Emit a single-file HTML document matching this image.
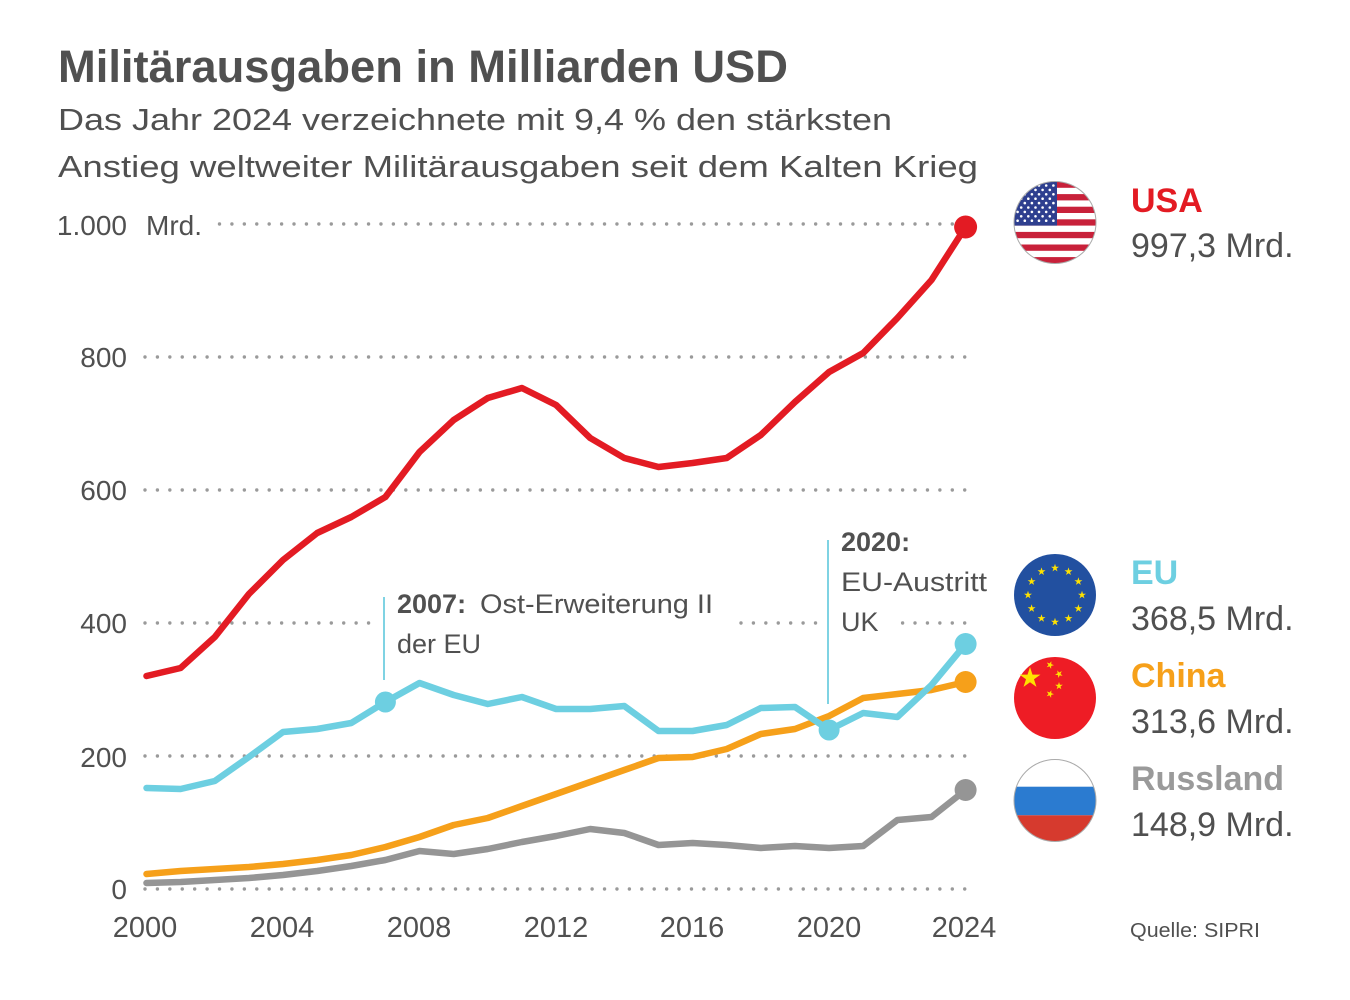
<!DOCTYPE html>
<html>
<head>
<meta charset="utf-8">
<style>
html,body{margin:0;padding:0;background:#fff;}
svg{display:block;}
text{font-family:"Liberation Sans",sans-serif;}
</style>
</head>
<body>
<svg width="1350" height="1000" viewBox="0 0 1350 1000" xmlns="http://www.w3.org/2000/svg">
<defs>
  <path id="star" d="M0,-1 L0.2245,-0.309 L0.951,-0.309 L0.363,0.118 L0.588,0.809 L0,0.382 L-0.588,0.809 L-0.363,0.118 L-0.951,-0.309 L-0.2245,-0.309 Z"/>
  <clipPath id="cUSA"><circle cx="1055" cy="222.5" r="41"/></clipPath>
  <clipPath id="cRU"><circle cx="1055" cy="800.5" r="41"/></clipPath>
</defs>
<rect width="1350" height="1000" fill="#fff"/>

<!-- Title -->
<text x="58" y="82" font-size="45" font-weight="bold" fill="#505050" textLength="730" lengthAdjust="spacingAndGlyphs">Militärausgaben in Milliarden USD</text>
<text x="58" y="130" font-size="31" fill="#505050" textLength="834" lengthAdjust="spacingAndGlyphs">Das Jahr 2024 verzeichnete mit 9,4 % den stärksten</text>
<text x="58" y="177" font-size="31" fill="#505050" textLength="920" lengthAdjust="spacingAndGlyphs">Anstieg weltweiter Militärausgaben seit dem Kalten Krieg</text>

<!-- Grid -->
<g stroke="#9a9a9a" stroke-width="3.4" stroke-linecap="round" stroke-dasharray="0 12.42">
  <line x1="219.5" y1="224" x2="966" y2="224"/>
  <line x1="145" y1="357" x2="966" y2="357"/>
  <line x1="145" y1="490" x2="966" y2="490"/>
  <line x1="145" y1="623" x2="369" y2="623"/>
  <line x1="741" y1="623" x2="817" y2="623"/>
  <line x1="902.6" y1="623" x2="966" y2="623"/>
  <line x1="145" y1="756" x2="966" y2="756"/>
  <line x1="145" y1="889" x2="966" y2="889"/>
</g>

<!-- Y labels -->
<g font-size="28" fill="#505050">
  <text x="127" y="235" text-anchor="end">1.000</text>
  <text x="146" y="235">Mrd.</text>
  <text x="127" y="367" text-anchor="end">800</text>
  <text x="127" y="500" text-anchor="end">600</text>
  <text x="127" y="633" text-anchor="end">400</text>
  <text x="127" y="767" text-anchor="end">200</text>
  <text x="127" y="899" text-anchor="end">0</text>
</g>

<!-- X labels -->
<g font-size="29" fill="#505050" text-anchor="middle">
  <text x="145" y="937">2000</text>
  <text x="282" y="937">2004</text>
  <text x="419" y="937">2008</text>
  <text x="556" y="937">2012</text>
  <text x="692" y="937">2016</text>
  <text x="829" y="937">2020</text>
  <text x="964" y="937">2024</text>
</g>

<!-- Annotation lines -->
<line x1="384" y1="597" x2="384" y2="680" stroke="#7fd3e3" stroke-width="2"/>
<line x1="828" y1="540" x2="828" y2="704" stroke="#7fd3e3" stroke-width="2"/>

<!-- Annotations -->
<g font-size="27" fill="#505050">
  <text x="397" y="613" font-weight="bold">2007:</text>
  <text x="480" y="613" textLength="233" lengthAdjust="spacingAndGlyphs">Ost-Erweiterung II</text>
  <text x="397" y="653">der EU</text>
  <text x="841" y="551" font-weight="bold">2020:</text>
  <text x="841" y="591" textLength="146" lengthAdjust="spacingAndGlyphs">EU-Austritt</text>
  <text x="841" y="631">UK</text>
</g>

<!-- Series -->
<g fill="none" stroke-width="6.5" stroke-linejoin="round" stroke-linecap="round">
  <polyline stroke="#959595" points="146.5,883 180.6,882 214.8,880 248.9,878 283,875 317.2,871 351.3,866 385.4,860 419.5,851 453.7,854 487.8,849 521.9,842 556.1,836 590.2,829 624.3,833 658.5,845 692.6,843 726.7,845 760.8,848 795,846 829.1,848 863.2,846 897.4,820 931.5,817 965.6,790"/>
  <polyline stroke="#F6A01A" points="146.5,874 180.6,871 214.8,869 248.9,867 283,864 317.2,860 351.3,855 385.4,847 419.5,837 453.7,825 487.8,818 521.9,806 556.1,794 590.2,782 624.3,770 658.5,758 692.6,757 726.7,749 760.8,734 795,729 829.1,716 863.2,698 897.4,694 931.5,690 965.6,682"/>
  <polyline stroke="#6DCFE1" points="146.5,788 180.6,789 214.8,781 248.9,757 283,732 317.2,729 351.3,723 385.4,702 419.5,683 453.7,695 487.8,704 521.9,697 556.1,709 590.2,709 624.3,706 658.5,731 692.6,731 726.7,725 760.8,708 795,707 829.1,730 863.2,713 897.4,717 931.5,685 965.6,644"/>
  <polyline stroke="#E31B23" points="146.5,676 180.6,668 214.8,637 248.9,594 283,560 317.2,533 351.3,517 385.4,497 419.5,452 453.7,420 487.8,398 521.9,388 556.1,405 590.2,438 624.3,458 658.5,467 692.6,463 726.7,458 760.8,435 795,402 829.1,372 863.2,353 897.4,318 931.5,280 965.6,227"/>
</g>
<circle cx="965.6" cy="790" r="11" fill="#959595"/>
<circle cx="965.6" cy="682" r="11" fill="#F6A01A"/>
<circle cx="965.6" cy="644" r="11" fill="#6DCFE1"/>
<circle cx="385.4" cy="702" r="10.5" fill="#6DCFE1"/>
<circle cx="829.1" cy="730" r="10.5" fill="#6DCFE1"/>
<circle cx="965.6" cy="227" r="11.5" fill="#E31B23"/>

<!-- USA flag -->
<g clip-path="url(#cUSA)">
  <rect x="1010" y="180" width="90" height="86" fill="#fff"/>
  <g fill="#C8213A">
    <rect x="1010" y="181.5" width="90" height="6.3"/>
    <rect x="1010" y="194.1" width="90" height="6.3"/>
    <rect x="1010" y="206.7" width="90" height="6.3"/>
    <rect x="1010" y="219.3" width="90" height="6.3"/>
    <rect x="1010" y="231.9" width="90" height="6.3"/>
    <rect x="1010" y="244.5" width="90" height="6.3"/>
    <rect x="1010" y="257.1" width="90" height="7"/>
  </g>
  <rect x="1010" y="180" width="47" height="45.6" fill="#2E3F8F"/>
  <g fill="#fff">
    <circle cx="1017.6" cy="185.5" r="1.3"/><circle cx="1024.8" cy="185.5" r="1.3"/><circle cx="1031.9" cy="185.5" r="1.3"/><circle cx="1039" cy="185.5" r="1.3"/><circle cx="1046.2" cy="185.5" r="1.3"/><circle cx="1053.4" cy="185.5" r="1.3"/>
    <circle cx="1021.2" cy="189.9" r="1.3"/><circle cx="1028.3" cy="189.9" r="1.3"/><circle cx="1035.5" cy="189.9" r="1.3"/><circle cx="1042.6" cy="189.9" r="1.3"/><circle cx="1049.8" cy="189.9" r="1.3"/>
    <circle cx="1017.6" cy="194.3" r="1.3"/><circle cx="1024.8" cy="194.3" r="1.3"/><circle cx="1031.9" cy="194.3" r="1.3"/><circle cx="1039" cy="194.3" r="1.3"/><circle cx="1046.2" cy="194.3" r="1.3"/><circle cx="1053.4" cy="194.3" r="1.3"/>
    <circle cx="1021.2" cy="198.7" r="1.3"/><circle cx="1028.3" cy="198.7" r="1.3"/><circle cx="1035.5" cy="198.7" r="1.3"/><circle cx="1042.6" cy="198.7" r="1.3"/><circle cx="1049.8" cy="198.7" r="1.3"/>
    <circle cx="1017.6" cy="203.1" r="1.3"/><circle cx="1024.8" cy="203.1" r="1.3"/><circle cx="1031.9" cy="203.1" r="1.3"/><circle cx="1039" cy="203.1" r="1.3"/><circle cx="1046.2" cy="203.1" r="1.3"/><circle cx="1053.4" cy="203.1" r="1.3"/>
    <circle cx="1021.2" cy="207.5" r="1.3"/><circle cx="1028.3" cy="207.5" r="1.3"/><circle cx="1035.5" cy="207.5" r="1.3"/><circle cx="1042.6" cy="207.5" r="1.3"/><circle cx="1049.8" cy="207.5" r="1.3"/>
    <circle cx="1017.6" cy="211.9" r="1.3"/><circle cx="1024.8" cy="211.9" r="1.3"/><circle cx="1031.9" cy="211.9" r="1.3"/><circle cx="1039" cy="211.9" r="1.3"/><circle cx="1046.2" cy="211.9" r="1.3"/><circle cx="1053.4" cy="211.9" r="1.3"/>
    <circle cx="1021.2" cy="216.3" r="1.3"/><circle cx="1028.3" cy="216.3" r="1.3"/><circle cx="1035.5" cy="216.3" r="1.3"/><circle cx="1042.6" cy="216.3" r="1.3"/><circle cx="1049.8" cy="216.3" r="1.3"/>
    <circle cx="1017.6" cy="220.7" r="1.3"/><circle cx="1024.8" cy="220.7" r="1.3"/><circle cx="1031.9" cy="220.7" r="1.3"/><circle cx="1039" cy="220.7" r="1.3"/><circle cx="1046.2" cy="220.7" r="1.3"/><circle cx="1053.4" cy="220.7" r="1.3"/>
  </g>
</g>
<circle cx="1055" cy="222.5" r="41" fill="none" stroke="#aaa" stroke-width="1"/>

<!-- EU flag -->
<circle cx="1055" cy="595" r="41" fill="#2250A0"/>
<g fill="#FFE200">
  <use href="#star" transform="translate(1055,568) scale(4.2)"/>
  <use href="#star" transform="translate(1068.5,571.6) scale(4.2)"/>
  <use href="#star" transform="translate(1078.4,581.5) scale(4.2)"/>
  <use href="#star" transform="translate(1082,595) scale(4.2)"/>
  <use href="#star" transform="translate(1078.4,608.5) scale(4.2)"/>
  <use href="#star" transform="translate(1068.5,618.4) scale(4.2)"/>
  <use href="#star" transform="translate(1055,622) scale(4.2)"/>
  <use href="#star" transform="translate(1041.5,618.4) scale(4.2)"/>
  <use href="#star" transform="translate(1031.6,608.5) scale(4.2)"/>
  <use href="#star" transform="translate(1028,595) scale(4.2)"/>
  <use href="#star" transform="translate(1031.6,581.5) scale(4.2)"/>
  <use href="#star" transform="translate(1041.5,571.6) scale(4.2)"/>
</g>

<!-- China flag -->
<circle cx="1055" cy="698" r="41" fill="#EE1C25"/>
<g fill="#FFE200">
  <use href="#star" transform="translate(1030,678) scale(11)"/>
  <use href="#star" transform="translate(1050,665) scale(4) rotate(20)"/>
  <use href="#star" transform="translate(1059,674) scale(4) rotate(45)"/>
  <use href="#star" transform="translate(1059,686) scale(4) rotate(0)"/>
  <use href="#star" transform="translate(1050,694) scale(4) rotate(20)"/>
</g>

<!-- Russia flag -->
<g clip-path="url(#cRU)">
  <rect x="1010" y="755" width="90" height="32" fill="#fff"/>
  <rect x="1010" y="786.7" width="90" height="28.6" fill="#2B7BD0"/>
  <rect x="1010" y="815.3" width="90" height="32" fill="#D63A2E"/>
</g>
<circle cx="1055" cy="800.5" r="41" fill="none" stroke="#aaa" stroke-width="1"/>

<!-- Legend text -->
<g font-size="34">
  <text x="1131" y="212" font-weight="bold" fill="#E31B23">USA</text>
  <text x="1131" y="257" fill="#505050">997,3 Mrd.</text>
  <text x="1131" y="584" font-weight="bold" fill="#6DCFE1">EU</text>
  <text x="1131" y="630" fill="#505050">368,5 Mrd.</text>
  <text x="1131" y="687" font-weight="bold" fill="#F6A01A">China</text>
  <text x="1131" y="733" fill="#505050">313,6 Mrd.</text>
  <text x="1131" y="790" font-weight="bold" fill="#9a9a9a">Russland</text>
  <text x="1131" y="836" fill="#505050">148,9 Mrd.</text>
</g>

<text x="1130" y="937" font-size="20" fill="#505050" textLength="130" lengthAdjust="spacingAndGlyphs">Quelle: SIPRI</text>
</svg>
</body>
</html>
